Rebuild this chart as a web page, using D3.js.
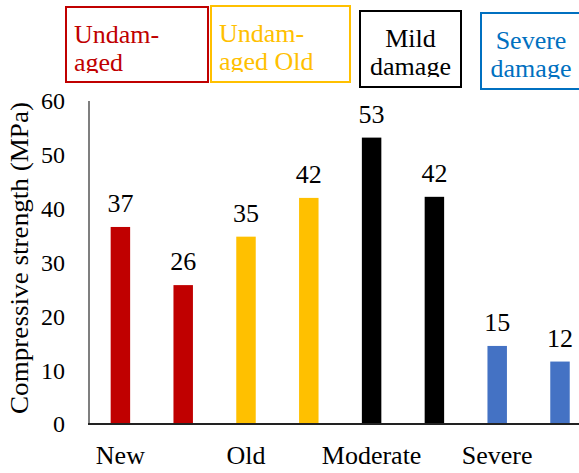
<!DOCTYPE html>
<html>
<head>
<meta charset="utf-8">
<script src="https://cdn.jsdelivr.net/npm/d3@7"></script>
<style>
  body { margin: 0; background: #fff; }
</style>
</head>
<body>
<script>
// data
const bars = ["New-1", "New-2", "Old-1", "Old-2", "Moderate-1", "Moderate-2", "Severe-1", "Severe-2"];
const strength = [36.6, 25.8, 34.8, 42.0, 53.2, 42.2, 14.5, 11.6];
const groupOf = [0, 0, 1, 1, 2, 2, 3, 3];
const groupLabels = ["New", "Old", "Moderate", "Severe"];
const groupColors = ["#c00000", "#ffc000", "#000000", "#4472c4"];
const legendLines = [["Undam-", "aged"], ["Undam-", "aged Old"], ["Mild", "damage"], ["Severe", "damage"]];
const legendColors = ["#c00000", "#ffc000", "#000000", "#0070c0"];
const yTicks = [0, 10, 20, 30, 40, 50, 60];

const width = 579, height = 473;
const margin = { left: 89, top: 101, bottom: 424 };
const serif = "Tinos, 'Times New Roman', Times, 'Liberation Serif', 'Noto Serif', 'DejaVu Serif', FreeSerif, serif";

const svg = d3.select("body").append("svg")
  .attr("width", width)
  .attr("height", height)
  .attr("font-family", serif)
  .style("display", "block");

const x = d3.scaleBand()
  .domain(bars)
  .range([margin.left, margin.left + 8 * 62.8])
  .paddingInner(0.69)
  .paddingOuter(0.345);

const y = d3.scaleLinear()
  .domain([0, 60])
  .range([margin.bottom, margin.top]);

// y axis line + tick labels
svg.append("line")
  .attr("x1", margin.left).attr("x2", margin.left)
  .attr("y1", y(60)).attr("y2", y(0))
  .attr("stroke", "#7f7f7f").attr("stroke-width", 2);

svg.selectAll(".ytick")
  .data(yTicks)
  .enter().append("text")
  .attr("class", "ytick")
  .attr("x", 65)
  .attr("y", d => y(d))
  .attr("dy", "0.35em")
  .attr("text-anchor", "end")
  .attr("font-size", 24)
  .text(d => d);

svg.append("text")
  .attr("transform", "translate(28," + 258 + ") rotate(-90)")
  .attr("text-anchor", "middle")
  .attr("textLength", 312)
  .attr("lengthAdjust", "spacingAndGlyphs")
  .attr("font-size", 25)
  .text("Compressive strength (MPa)");

// bars
svg.selectAll(".bar")
  .data(bars)
  .enter().append("rect")
  .attr("class", "bar")
  .attr("x", d => x(d))
  .attr("width", x.bandwidth())
  .attr("y", (d, i) => y(strength[i]))
  .attr("height", (d, i) => y(0) - y(strength[i]))
  .attr("fill", (d, i) => groupColors[groupOf[i]]);

// value labels
svg.selectAll(".val")
  .data(bars)
  .enter().append("text")
  .attr("class", "val")
  .attr("x", d => x(d) + x.bandwidth() / 2)
  .attr("y", (d, i) => y(strength[i]) - 15)
  .attr("text-anchor", "middle")
  .attr("font-size", 26)
  .text((d, i) => Math.round(strength[i]));

// x axis
svg.append("line")
  .attr("x1", margin.left - 1).attr("x2", width)
  .attr("y1", y(0)).attr("y2", y(0))
  .attr("stroke", "#222").attr("stroke-width", 2);

svg.selectAll(".xlab")
  .data(groupLabels)
  .enter().append("text")
  .attr("class", "xlab")
  .attr("x", (d, i) => x(bars[i * 2]) + x.bandwidth() / 2)
  .attr("y", 464)
  .attr("text-anchor", "middle")
  .attr("font-size", 26)
  .text(d => d);

// legend boxes along the top
const boxes = [
  { x: 66, y: 7, w: 142, h: 75, anchor: "start" },
  { x: 211, y: 6, w: 139, h: 76, anchor: "start" },
  { x: 360, y: 11, w: 101, h: 76, anchor: "middle" },
  { x: 481, y: 13, w: 100, h: 76, anchor: "middle" }
];

const legend = svg.append("g").attr("class", "legend");

boxes.forEach((b, i) => {
  legend.append("clipPath")
    .attr("id", "clip-" + i)
    .append("rect")
    .attr("x", b.x).attr("y", b.y)
    .attr("width", b.w).attr("height", 66);

  legend.append("rect")
    .attr("x", b.x).attr("y", b.y)
    .attr("width", b.w).attr("height", b.h)
    .attr("fill", "none")
    .attr("stroke", legendColors[i])
    .attr("stroke-width", 2);

  const tx = b.anchor === "start" ? b.x + 8 : b.x + b.w / 2;
  legend.append("text")
    .attr("clip-path", "url(#clip-" + i + ")")
    .attr("text-anchor", b.anchor)
    .attr("fill", legendColors[i])
    .attr("font-size", 26)
    .selectAll("tspan")
    .data(legendLines[i])
    .enter().append("tspan")
    .attr("x", tx)
    .attr("y", (d, j) => b.y + 36 + j * 28)
    .text(d => d);
});
</script>
</body>
</html>
